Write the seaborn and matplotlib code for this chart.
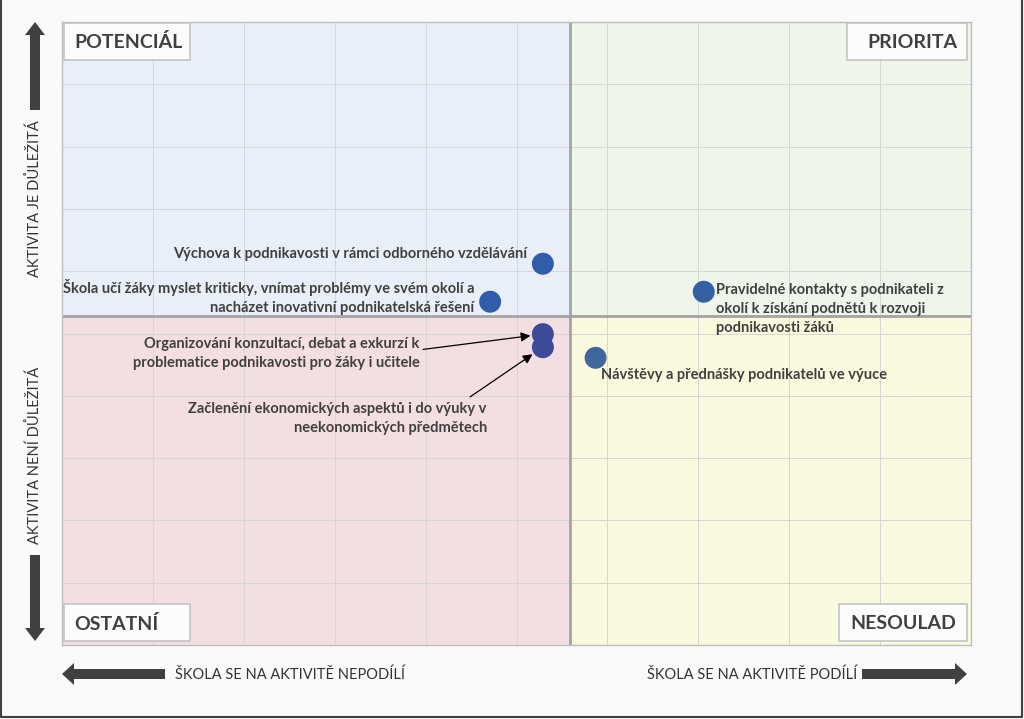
import numpy as np
import pandas as pd
import matplotlib
matplotlib.use("Agg")
import matplotlib.pyplot as plt
from matplotlib.patches import Rectangle, FancyArrow
import seaborn as sns

# ---------------- data ----------------
activities = [
    "Výchova k podnikavosti v rámci odborného vzdělávání",
    "Škola učí žáky myslet kriticky, vnímat problémy ve svém okolí a\nnacházet inovativní podnikatelská řešení",
    "Organizování konzultací, debat a exkurzí k\nproblematice podnikavosti pro žáky i učitele",
    "Začlenění ekonomických aspektů i do výuky v\nneekonomických předmětech",
    "Pravidelné kontakty s podnikateli z\nokolí k získání podnětů k rozvoji\npodnikavosti žáků",
    "Návštěvy a přednášky podnikatelů ve výuce",
]
participation = [5.29, 4.71, 5.29, 5.29, 7.06, 5.87]   # x: škola se na aktivitě podílí
importance = [6.12, 5.51, 4.99, 4.78, 5.67, 4.61]      # y: aktivita je důležitá
point_colors = ["#2F5DA9", "#2F5DA9", "#3C4A98", "#3C4A98", "#3461A4", "#3F679D"]
quadrant_names = ["POTENCIÁL", "PRIORITA", "OSTATNÍ", "NESOULAD"]
x_axis_texts = ["ŠKOLA SE NA AKTIVITĚ NEPODÍLÍ", "ŠKOLA SE NA AKTIVITĚ PODÍLÍ"]
y_axis_texts = ["AKTIVITA JE DŮLEŽITÁ", "AKTIVITA NENÍ DŮLEŽITÁ"]

df = pd.DataFrame({"activity": activities, "x": participation, "y": importance})

sns.set_theme(style="white")
FONT = ["Lato", "DejaVu Sans"]
plt.rcParams["font.family"] = FONT
TXT = "#404040"

W, H = 1024, 719
fig = plt.figure(figsize=(W / 100, H / 100), dpi=100, facecolor="#FAFAFA")

def fx(px):
    return px / W

def fy(py):
    return 1 - py / H

L, R, T, B = 62, 971, 22, 645
ax = fig.add_axes([fx(L), fy(B), fx(R) - fx(L), fy(T) - fy(B)])
ax.set_xlim(0, 10)
ax.set_ylim(0, 10)

xm = float(np.mean(participation))
ym = float(np.mean(importance))

# quadrant backgrounds
ax.add_patch(Rectangle((0, ym), xm, 10 - ym, color="#E9EFF8", zorder=0, lw=0))
ax.add_patch(Rectangle((xm, ym), 10 - xm, 10 - ym, color="#EFF5EA", zorder=0, lw=0))
ax.add_patch(Rectangle((0, 0), xm, ym, color="#F3DFE1", zorder=0, lw=0))
ax.add_patch(Rectangle((xm, 0), 10 - xm, ym, color="#FAFADF", zorder=0, lw=0))

ax.set_xticks(np.arange(0, 11, 1))
ax.set_yticks(np.arange(0, 11, 1))
ax.grid(True, color="#D6D6D6", lw=0.7, zorder=1)
ax.tick_params(left=False, bottom=False, labelleft=False, labelbottom=False)
for s in ax.spines.values():
    s.set_color("#BDBDBD")
    s.set_linewidth(1)
ax.set_axisbelow(True)

ax.axvline(xm, color="#A3A3A3", lw=2, zorder=2)
ax.axhline(ym, color="#A3A3A3", lw=2, zorder=2)

sns.scatterplot(data=df, x="x", y="y", hue="activity", palette=point_colors,
                s=250, edgecolor="none", legend=False, ax=ax, zorder=4)
ax.set_xlabel("")
ax.set_ylabel("")

fs = 10.5
# labels
ann = dict(textcoords="offset pixels", fontsize=fs, color=TXT, fontweight="bold",
           linespacing=1.45, zorder=5)
ax.annotate(activities[0], (participation[0], importance[0]), xytext=(-16, 10),
            ha="right", va="center", **ann)
ax.annotate(activities[1], (participation[1], importance[1]), xytext=(-16, 5),
            ha="right", va="center", multialignment="right", **ann)
ax.annotate(activities[2], (participation[2], importance[2]), xytext=(-123, -19),
            ha="right", va="center", multialignment="right",
            arrowprops=dict(arrowstyle="-|>", color="black", lw=0.9, shrinkA=0, shrinkB=9,
                            relpos=(1.0, 0.6), mutation_scale=14), **ann)
ax.annotate(activities[3], (participation[3], importance[3]), xytext=(-56, -71),
            ha="right", va="center", multialignment="right",
            arrowprops=dict(arrowstyle="-|>", color="black", lw=0.9, shrinkA=2, shrinkB=9,
                            relpos=(0.92, 1.0), mutation_scale=14), **ann)
ax.annotate(activities[4], (participation[4], importance[4]), xytext=(12, -17),
            ha="left", va="center", multialignment="left", **ann)
ax.annotate(activities[5], (participation[5], importance[5]), xytext=(5, -17),
            ha="left", va="center", **ann)

# overlay in pixel coordinates for decorations
ov = fig.add_axes([0, 0, 1, 1], facecolor="none")
ov.set_xlim(0, W)
ov.set_ylim(H, 0)
ov.axis("off")

boxes = [
    (64, 23, 190, 60, quadrant_names[0], "left", 74),
    (847, 23, 967, 60, quadrant_names[1], "right", 957),
    (64, 604, 190, 641, quadrant_names[2], "left", 74),
    (839, 604, 967, 641, quadrant_names[3], "right", 956),
]
for x0, y0, x1, y1, name, ha, tx in boxes:
    ov.add_patch(Rectangle((x0, y0), x1 - x0, y1 - y0, facecolor="#FCFCFC",
                           edgecolor="#C4C4C4", lw=1.2, zorder=6))
    ov.text(tx, (y0 + y1) / 2 + 1, name, ha=ha, va="center", fontsize=14,
            fontweight="bold", color=TXT, zorder=7)

ARC = "#404040"
# horizontal arrows
ov.add_patch(FancyArrow(165, 674, -103, 0, width=10, head_width=22, head_length=12,
                        length_includes_head=True, color=ARC, lw=0))
ov.add_patch(FancyArrow(862, 674, 105, 0, width=10, head_width=22, head_length=12,
                        length_includes_head=True, color=ARC, lw=0))
ov.text(175, 675, x_axis_texts[0], ha="left", va="center", fontsize=10.5, color="#333333")
ov.text(857, 675, x_axis_texts[1], ha="right", va="center", fontsize=10.5, color="#333333")
# vertical arrows
ov.add_patch(FancyArrow(35, 110, 0, -88, width=10, head_width=20, head_length=13,
                        length_includes_head=True, color=ARC, lw=0))
ov.add_patch(FancyArrow(35, 555, 0, 86, width=10, head_width=20, head_length=13,
                        length_includes_head=True, color=ARC, lw=0))
ov.text(35, 199, y_axis_texts[0], ha="center", va="center", rotation=90, fontsize=10.5, color="#333333")
ov.text(35, 455, y_axis_texts[1], ha="center", va="center", rotation=90, fontsize=10.5, color="#333333")

# frame
ov.plot([1, 1, 1022, 1022], [0, 717, 717, 0], color="#404040", lw=1.5, clip_on=False)

fig.savefig("out.png", dpi=100, facecolor=fig.get_facecolor())
